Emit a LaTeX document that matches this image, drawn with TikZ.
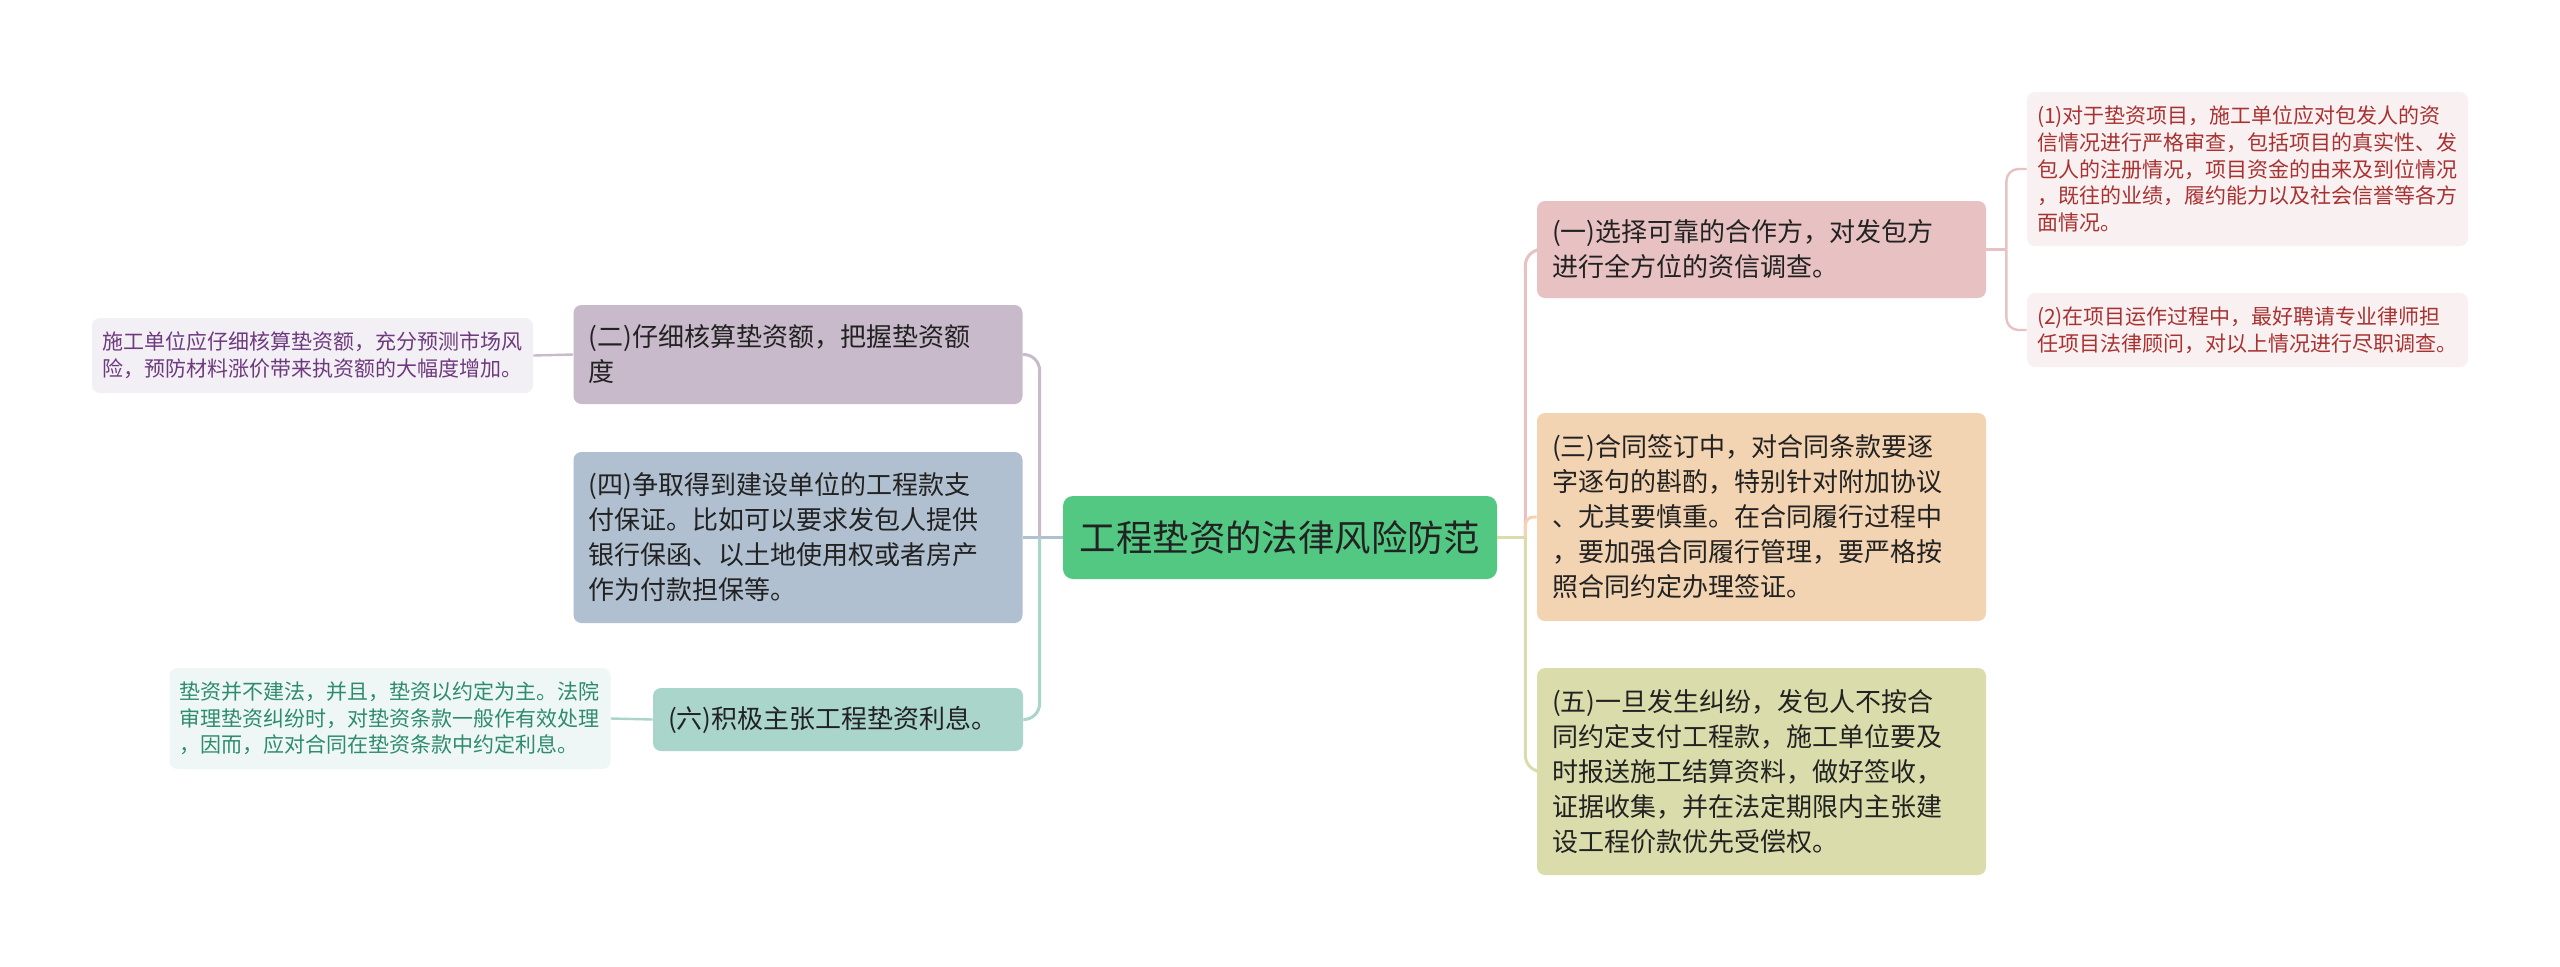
\documentclass[tikz,border=0pt]{standalone}
\usepackage{fontspec}
\newfontfamily\cjk{Noto Sans CJK SC}
\usepackage{tikz}
\definecolor{txtdark}{HTML}{222222}
\definecolor{rootgreen}{HTML}{53C883}
\definecolor{pinkfill}{HTML}{E8C1C2}
\definecolor{peachfill}{HTML}{F3D4B2}
\definecolor{olivefill}{HTML}{DADDAB}
\definecolor{mauvefill}{HTML}{C9BACB}
\definecolor{bluefill}{HTML}{B1C0D0}
\definecolor{mintfill}{HTML}{A9D5CA}
\definecolor{pinkleaf}{HTML}{F9F1F1}
\definecolor{pinktext}{HTML}{A83232}
\definecolor{mauveleaf}{HTML}{F3F0F5}
\definecolor{mauvetext}{HTML}{6E3A7E}
\definecolor{mintleaf}{HTML}{EEF7F5}
\definecolor{minttext}{HTML}{2E8C6C}

\begin{document}
\begin{tikzpicture}[x=0.5pt,y=-0.5pt,
    branch/.style={rounded corners=4pt, inner xsep=7.5pt, inner ysep=0pt, text width=209.5pt, align=left,
        font=\cjk\fontsize{13pt}{17.5pt}\selectfont, text=txtdark},
    leaf/.style={rounded corners=4pt, inner xsep=5pt, inner ysep=0pt, text width=210.5pt, align=left,
        font=\cjk\fontsize{10.5pt}{13.3pt}\selectfont},
    link/.style={line width=1.5pt, rounded corners=8pt},
    leaflink/.style={line width=1.2pt, rounded corners=6pt}]
    \fill[white] (0,0) rectangle (2560,966);

    % root
    \node[fill=rootgreen, rounded corners=5pt, minimum width=217pt, minimum height=41.5pt, inner sep=0pt,
        font=\cjk\fontsize{18.2pt}{22pt}\selectfont, text=txtdark] (root) at (1280,537.5) {工程垫资的法律风险防范};

    % right side
    \node[branch, fill=pinkfill, minimum height=48.5pt] (yi) at (1761.5,249.5)
        {(一)选择可靠的合作方，对发包方\\进行全方位的资信调查。};
    \node[branch, fill=peachfill, minimum height=104pt] (san) at (1761.5,517)
        {(三)合同签订中，对合同条款要逐\\字逐句的斟酌，特别针对附加协议\\、尤其要慎重。在合同履行过程中\\，要加强合同履行管理，要严格按\\照合同约定办理签证。};
    \node[branch, fill=olivefill, minimum height=103.5pt] (wu) at (1761.5,771.5)
        {(五)一旦发生纠纷，发包人不按合\\同约定支付工程款，施工单位要及\\时报送施工结算资料，做好签收，\\证据收集，并在法定期限内主张建\\设工程价款优先受偿权。};
    \node[leaf, fill=pinkleaf, text=pinktext, minimum height=77pt] (yione) at (2247.5,169)
        {(1)对于垫资项目，施工单位应对包发人的资\\信情况进行严格审查，包括项目的真实性、发\\包人的注册情况，项目资金的由来及到位情况\\，既往的业绩，履约能力以及社会信誉等各方\\面情况。};
    \node[leaf, fill=pinkleaf, text=pinktext, minimum height=37pt] (yitwo) at (2247.5,330)
        {(2)在项目运作过程中，最好聘请专业律师担\\任项目法律顾问，对以上情况进行尽职调查。};

    % left side
    \node[branch, fill=mauvefill, minimum height=49.5pt] (er) at (798,354.5)
        {(二)仔细核算垫资额，把握垫资额\\度};
    \node[branch, fill=bluefill, minimum height=85.5pt] (si) at (798,537.5)
        {(四)争取得到建设单位的工程款支\\付保证。比如可以要求发包人提供\\银行保函、以土地使用权或者房产\\作为付款担保等。};
    \node[branch, fill=mintfill, text width=170pt, minimum height=31.5pt] (liu) at (838,719.5)
        {(六)积极主张工程垫资利息。};
    \node[leaf, fill=mauveleaf, text=mauvetext, minimum height=37.5pt] (erleaf) at (312.5,355.5)
        {施工单位应仔细核算垫资额，充分预测市场风\\险，预防材料涨价带来执资额的大幅度增加。};
    \node[leaf, fill=mintleaf, text=minttext, minimum height=50.5pt] (liuleaf) at (390,718.5)
        {垫资并不建法，并且，垫资以约定为主。法院\\审理垫资纠纷时，对垫资条款一般作有效处理\\，因而，应对合同在垫资条款中约定利息。};

    % connectors
    \draw[link, olivefill] (root.east) -- ++(14pt,0) coordinate (rjoint);
    \draw[link, pinkfill] (rjoint) |- (yi.west);
    \draw[link, peachfill, rounded corners=4pt] (rjoint) |- (san.west);
    \draw[link, olivefill] (rjoint) |- (wu.west);
    \draw[link, bluefill] (root.west) -- (si.east);
    \path (root.west) -- ++(-11.5pt,0) coordinate (ljoint);
    \draw[link, mauvefill] (ljoint) |- (er.east);
    \draw[link, mintfill] (ljoint) |- (liu.east);
    \draw[leaflink, pinkfill] (yi.east) -- ++(10pt,0) coordinate (yijoint);
    \draw[leaflink, pinkfill] (yijoint) |- (yione.west);
    \draw[leaflink, pinkfill] (yijoint) |- (yitwo.west);
    \draw[leaflink, mauvefill] (er.west) -- (erleaf.east);
    \draw[leaflink, mintfill] (liu.west) -- (liuleaf.east);
\end{tikzpicture}
\end{document}
